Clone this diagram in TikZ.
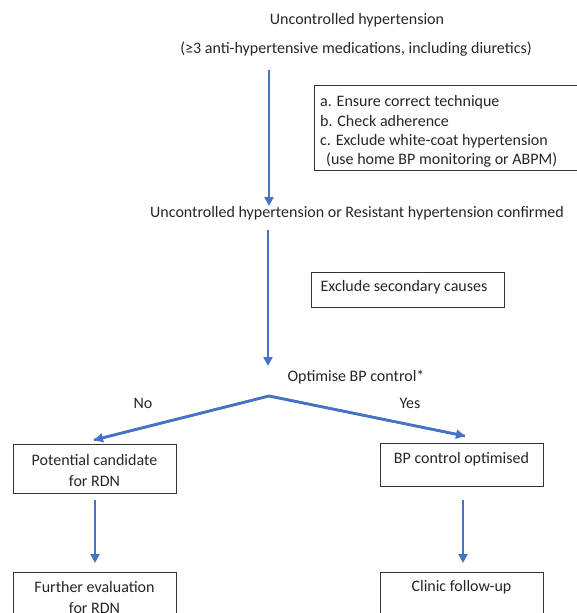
\documentclass[tikz,border=0pt]{standalone}
\usepackage{fontspec}
\setmainfont{Carlito}
\usetikzlibrary{arrows.meta}
\definecolor{arrblue}{RGB}{68,114,196}
\begin{document}
\begin{tikzpicture}[x=1pt,y=-1pt,
  every node/.style={font=\fontsize{16}{21}\selectfont, inner sep=0pt, text=black!85},
  arr/.style={draw=arrblue, line width=2.6pt, -{Triangle[width=9pt,length=9pt]}},
  boxed/.style={draw=black!80, line width=0.9pt, rectangle, inner sep=0pt}]
\useasboundingbox (0,0) rectangle (577,613);
\clip (0,0) rectangle (577,613);
% top texts
\node (t1) at (357,20) {Uncontrolled hypertension};
\node (t2) at (356,49) {(≥3 anti-hypertensive medications, including diuretics)};
\coordinate (a1s) at (269,70);
\coordinate (a1e) at (269,206);
\draw[arr] (a1s) -- (a1e);
% checklist box
\node[boxed, minimum width=276pt, minimum height=85pt] (abc) at (452,127.5) {};
\node[anchor=west] (la) at (320,102) {a. Ensure correct technique};
\node[anchor=west] (lb) at (320,121.5) {b. Check adherence};
\node[anchor=west] (lc) at (320,141) {c. Exclude white-coat hypertension};
\node[anchor=west] (ld) at (326,160.5) {(use home BP monitoring or ABPM)};
% confirmed
\node (t3) at (357,213) {Uncontrolled hypertension or Resistant hypertension confirmed};
\coordinate (a2s) at (268,230);
\coordinate (a2e) at (268,366);
\draw[arr] (a2s) -- (a2e);
\node[boxed, minimum width=193pt, minimum height=35pt] (ex) at (407.5,289.5) {};
\node (ext) at (404,287.5) {Exclude secondary causes};
% optimise
\node (t4) at (356,377) {Optimise BP control*};
\coordinate (apex) at (269,396);
\coordinate (lend) at (94,440);
\coordinate (rend) at (465,436);
\draw[arr] (apex) -- (lend);
\draw[arr] (apex) -- (rend);
\draw[draw=arrblue, line width=2.6pt, line join=miter] (lend) -- (apex) -- (rend);
\node (no) at (143,403) {No};
\node (yes) at (410,403) {Yes};
% left branch
\node[boxed, minimum width=163pt, minimum height=49pt] (l1) at (94.5,468.5) {};
\node[align=center] (l1t) at (94.5,470.5) {Potential candidate\\for RDN};
\coordinate (l1a) at (95,500);
\coordinate (l1b) at (95,563);
\draw[arr] (l1a) -- (l1b);
\node[boxed, minimum width=163pt, minimum height=80pt] (l2) at (94.5,612) {};
\node[align=center] (l2t) at (94.5,597) {Further evaluation\\for RDN};
% right branch
\node[boxed, minimum width=163pt, minimum height=43pt] (r1) at (461.5,464.5) {};
\node (r1t) at (461.5,459) {BP control optimised};
\coordinate (r1a) at (463,500);
\coordinate (r1b) at (463,563);
\draw[arr] (r1a) -- (r1b);
\node[boxed, minimum width=163pt, minimum height=80pt] (r2) at (461.5,612) {};
\node (r2t) at (461.5,587) {Clinic follow-up};
\end{tikzpicture}
\end{document}
